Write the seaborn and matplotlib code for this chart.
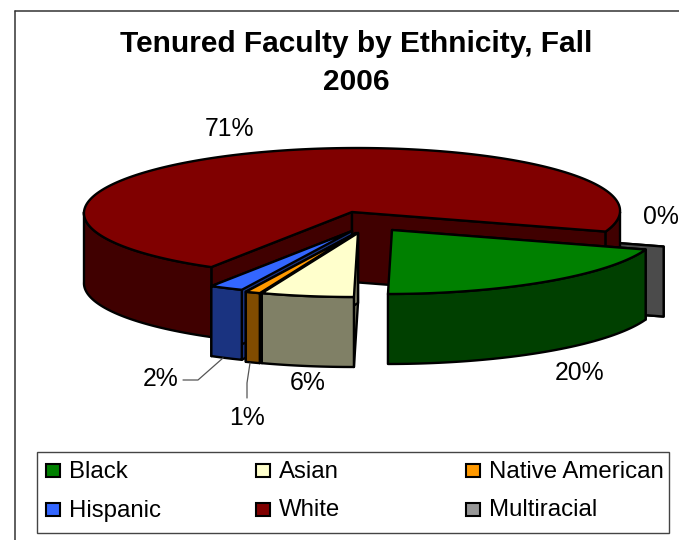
import numpy as np
import matplotlib
matplotlib.use("Agg")
import matplotlib.pyplot as plt
from matplotlib.patches import Rectangle
import seaborn as sns

categories = ["Black", "Asian", "Native American", "Hispanic", "White", "Multiracial"]
values = [20.0, 5.6, 0.9, 2.05, 71.45, 0.0]
top_colors = ["#008000", "#FFFFCC", "#FF9900", "#3366FF", "#800000", "#969696"]
side_colors = ["#004000", "#808066", "#804C00", "#1A3380", "#400000", "#4B4B4B"]
title_text = "Tenured Faculty by Ethnicity, Fall\n2006"

# Layout (pixels)
START = 17.8
RX, RY, DEPTH, SKEW = 268, 64, 70, 5
apex = {"Black": (392, 230), "Asian": (358, 233), "Native American": (356, 233),
        "Hispanic": (352, 231), "White": (352, 212), "Multiracial": (410, 227)}
label_pos = {"Black": (580, 373), "Asian": (308, 383), "Native American": (247, 418),
             "Hispanic": (161, 379), "White": (229, 129), "Multiracial": (661, 217)}
draw_order = ["Multiracial", "White", "Black", "Hispanic", "Native American", "Asian"]

sns.set_theme(style="white")
plt.rcParams["font.family"] = ["Liberation Sans", "DejaVu Sans"]

fig, ax = plt.subplots(figsize=(6.79, 5.40), dpi=100)
ax.set_position([0, 0, 1, 1])
ax.set_xlim(0, 679)
ax.set_ylim(540, 0)
ax.axis("off")

# slice angle ranges, clockwise on screen from START
edges = START + np.concatenate([[0], np.cumsum(values)]) * 3.6
spans = {c: (edges[i], edges[i + 1]) for i, c in enumerate(categories)}


def pts(cat, thetas):
    ax0, ay0 = apex[cat]
    t = np.radians(np.asarray(thetas, dtype=float))
    return ax0 + RX * np.cos(t) - SKEW * np.sin(t), ay0 + RY * np.sin(t)


def poly(xs, ys, color, z):
    ax.fill(xs, ys, facecolor=color, edgecolor="black", linewidth=1.7,
            joinstyle="round", zorder=z)


z = 2
for cat in draw_order:
    i = categories.index(cat)
    a, b = spans[cat]
    ax0, ay0 = apex[cat]
    side, top = side_colors[i], top_colors[i]
    # inner walls
    for th in (a, b):
        x1, y1 = pts(cat, [th])
        if cat == "Black" and th == b:
            continue
        poly([ax0, x1[0], x1[0], ax0], [ay0, y1[0], y1[0] + DEPTH, ay0 + DEPTH], side, z)
        z += 0.01
    if b > a:
        # outer wall: front half of the ellipse only
        ranges = []
        for lo, hi in ((a, min(b, 180)), (max(a, 360), min(b, 540))):
            if hi > lo:
                ranges.append((lo, hi))
        for lo, hi in ranges:
            th = np.linspace(lo, hi, 90)
            x, y = pts(cat, th)
            poly(np.r_[x, x[::-1]], np.r_[y, y[::-1] + DEPTH], side, z)
            z += 0.01
        th = np.linspace(a, b, 240)
        x, y = pts(cat, th)
        poly(np.r_[ax0, x], np.r_[ay0, y], top, z)
        z += 0.01
    z += 0.1

# data labels
for c, v in zip(categories, values):
    lx, ly = label_pos[c]
    ax.text(lx, ly, f"{round(v)}%", fontsize=17.8, color="black", ha="center",
            va="center", zorder=20)

# leader lines
ax.plot([223, 198, 183], [358, 380, 380], color="#555555", lw=0.9, zorder=19)
ax.plot([250, 247, 247], [363, 383, 398], color="#555555", lw=0.9, zorder=19)

# title
ax.text(356, 63, title_text, fontsize=21.5, fontweight="bold", color="black",
        ha="center", va="center", linespacing=1.42, zorder=20)

# frame and legend box
ax.plot([15, 15], [540, 11], color="#333333", lw=1.1, zorder=1)
ax.plot([15, 679], [11, 11], color="#333333", lw=1.1, zorder=1)
ax.add_patch(Rectangle((37, 452), 632, 81, facecolor="white", edgecolor="#444444",
                       lw=1.0, zorder=21))
legend_x = [46, 256, 466]
legend_y = [471, 510]
legend_layout = [["Black", "Asian", "Native American"], ["Hispanic", "White", "Multiracial"]]
for row, yy in zip(legend_layout, legend_y):
    for cat, xx in zip(row, legend_x):
        i = categories.index(cat)
        ax.add_patch(Rectangle((xx, yy - 7), 14, 13, facecolor=top_colors[i],
                               edgecolor="black", lw=1.5, zorder=22))
        ax.text(xx + 23, yy + 0.5, cat, fontsize=17.3, color="black", ha="left",
                va="center", zorder=22)

fig.savefig("out.png", dpi=100, facecolor="white")
